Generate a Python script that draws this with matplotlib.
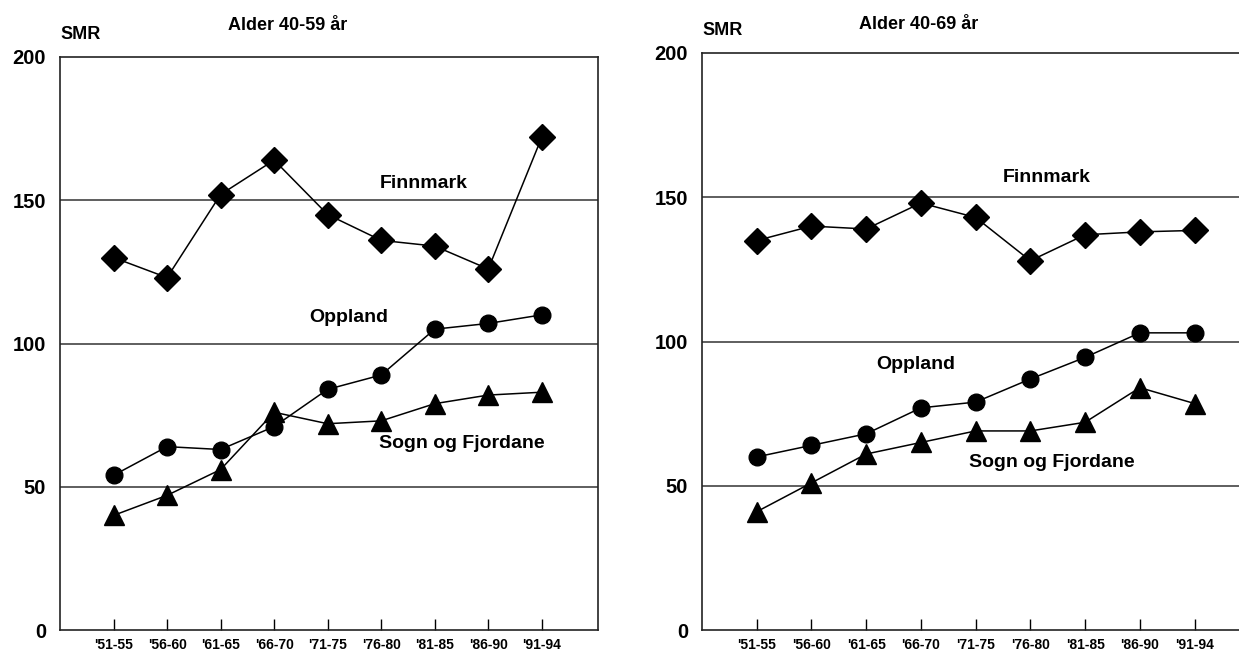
import numpy as np
import matplotlib.pyplot as plt

plt.rcParams['font.family'] = ['Liberation Sans', 'DejaVu Sans']
plt.rcParams['font.weight'] = 'bold'

# Data: SMR by period, two age groups
periods = ["'51-55", "'56-60", "'61-65", "'66-70", "'71-75",
           "'76-80", "'81-85", "'86-90", "'91-94"]

finnmark_4059 = [130, 123, 152, 164, 145, 136, 134, 126, 172]
oppland_4059 = [54, 64, 63, 71, 84, 89, 105, 107, 110]
sogn_4059 = [40, 47, 56, 76, 72, 73, 79, 82, 83]

finnmark_4069 = [135, 140, 139, 148, 143, 128, 137, 138, 138.5]
oppland_4069 = [60, 64, 68, 77, 79, 87, 94.5, 103, 103]
sogn_4069 = [41, 51, 61, 65, 69, 69, 72, 84, 78.5]

W, H = 1239, 652
fig = plt.figure(figsize=(W / 100, H / 100), dpi=100)


def panel(rect, title, title_xy, fin, opp, sog, label_pos):
    ax = fig.add_axes(rect)
    x = np.arange(len(periods))
    for v in [50, 100, 150]:
        ax.axhline(v, color='#333333', lw=1.1, zorder=1)
    kw = dict(color='black', lw=1.1, zorder=3)
    ax.plot(x, fin, marker='D', markersize=13, **kw)
    ax.plot(x, opp, marker='o', markersize=12, **kw)
    ax.plot(x, sog, marker='^', markersize=15, **kw)
    ax.set_xlim(-1, 9.05)
    ax.set_ylim(0, 200)
    ax.set_yticks([0, 50, 100, 150, 200])
    ax.set_yticklabels(['0', '50', '100', '150', '200'], fontsize=14.5, fontweight='bold')
    ax.tick_params(axis='y', length=0, pad=10)
    ax.set_xticks(x)
    ax.set_xticklabels(periods, fontsize=10, fontweight='bold')
    ax.tick_params(axis='x', direction='in', length=8, width=1, pad=6)
    for s in ax.spines.values():
        s.set_linewidth(1.2)
        s.set_color('#222222')
    ax.text(title_xy[0], title_xy[1], title, transform=ax.transAxes,
            ha='center', va='center', fontsize=13, fontweight='bold')
    ax.text(0.0, 1.025, 'SMR', transform=ax.transAxes, ha='left', va='bottom',
            fontsize=13, fontweight='bold')
    names = ['Finnmark', 'Oppland', 'Sogn og Fjordane']
    for name, (lx, ly) in zip(names, label_pos):
        ax.text(lx, ly, name, ha='center', va='center', fontsize=14,
                fontweight='bold', zorder=4)
    return ax


panel([60 / W, 22 / H, 538 / W, 573 / H], 'Alder 40-59 år', (0.424, 1.055),
      finnmark_4059, oppland_4059, sogn_4059,
      [(5.8, 156), (4.4, 109), (6.5, 65)])

panel([702 / W, 22 / H, 550 / W, 577 / H], 'Alder 40-69 år', (0.393, 1.05),
      finnmark_4069, oppland_4069, sogn_4069,
      [(5.3, 157), (2.9, 92), (5.4, 58)])

fig.savefig('out.png', dpi=100)
